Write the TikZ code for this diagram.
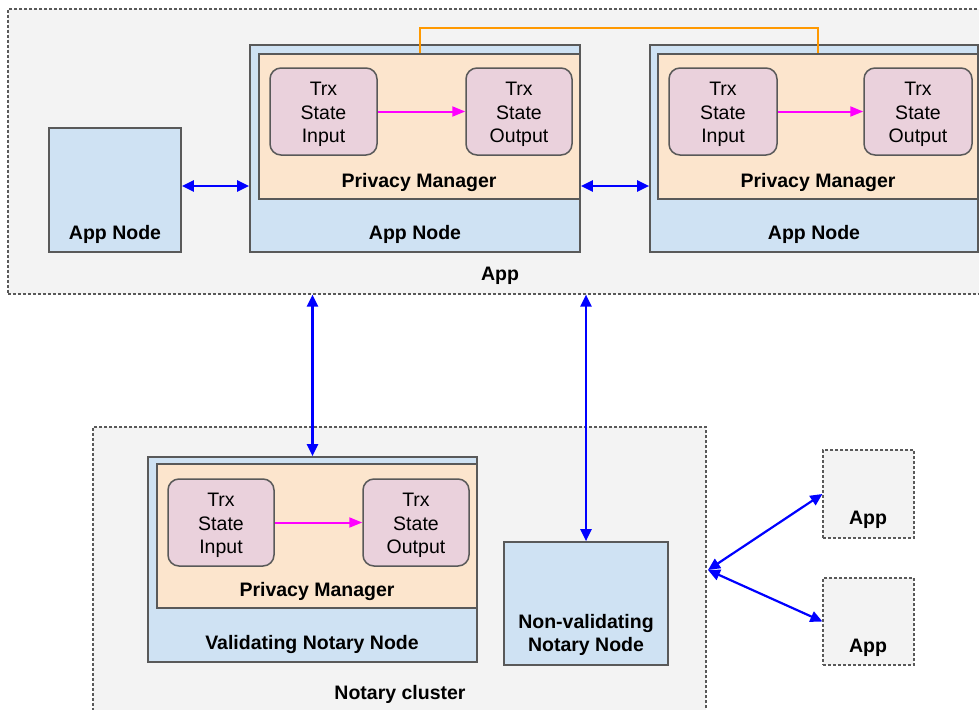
\documentclass[tikz,border=0pt]{standalone}
\usepackage{fontspec}
\setmainfont{Liberation Sans}
\usetikzlibrary{arrows.meta,fit}
\definecolor{bgbox}{HTML}{F3F3F3}
\definecolor{nodeblue}{HTML}{CFE2F3}
\definecolor{pmorange}{HTML}{FCE5CD}
\definecolor{trxpink}{HTML}{EAD1DC}
\definecolor{edgegray}{HTML}{595959}
\definecolor{orangeline}{HTML}{FF9900}
\definecolor{arrowblue}{HTML}{0000FF}
\definecolor{arrowpink}{HTML}{FF00FF}
\begin{document}
\begin{tikzpicture}[x=1pt,y=-1pt,
  font=\fontsize{19.5}{23.5}\selectfont,
  group/.style={draw=edgegray, fill=bgbox, line width=1.2pt, dash pattern=on 3pt off 2pt, inner sep=0pt},
  nodebox/.style={draw=edgegray, fill=nodeblue, line width=1.7pt, inner sep=0pt},
  pmbox/.style={draw=edgegray, fill=pmorange, line width=1.7pt, inner sep=0pt},
  trxbox/.style={draw=edgegray, fill=trxpink, line width=1.5pt, inner sep=0pt, rounded corners=11pt, align=center},
  trxtext/.style={align=center, inner sep=0pt, yshift=-3pt},
  lbl/.style={font=\fontsize{19.5}{23.5}\selectfont\bfseries, inner sep=0pt, align=center, yshift=-3pt},
  biarrow/.style={draw=arrowblue, line width=2.2pt, {Triangle[length=12pt,width=11pt]}-{Triangle[length=12pt,width=11pt]}},
  flow/.style={draw=arrowpink, line width=2pt, -{Triangle[length=13pt,width=10pt]}},
  link/.style={draw=orangeline, line width=2pt}
]
\useasboundingbox (0,0) rectangle (979,709);

% groups
\node[group, fit={(8,9) (995,294)}] (appgroup) {};
\node[lbl] (applbl) at (500,273) {App};
\node[group, fit={(93,427) (706,730)}] (notary) {};
\node[lbl] (notarylbl) at (400,691) {Notary cluster};

% left app node
\node[nodebox, fit={(49,128) (181,252)}] (an1) {};
\node[lbl] (an1lbl) at (115,231) {App Node};

% middle app node
\node[nodebox, fit={(250,45) (580,252)}] (an2) {};
\node[pmbox, fit={(259,54) (580,199)}] (pm2) {};
\node[lbl] (pm2lbl) at (419,179) {Privacy Manager};
\node[lbl] (an2lbl) at (415,231) {App Node};
\node[trxbox, fit={(270,68) (377,155)}] (in2) {};
\node[trxtext] (in2t) at (in2.center) {Trx\\State\\Input};
\node[trxbox, fit={(466,68) (572,155)}] (out2) {};
\node[trxtext] (out2t) at (out2.center) {Trx\\State\\Output};

% right app node
\node[nodebox, fit={(650,45) (978,252)}] (an3) {};
\node[pmbox, fit={(658,54) (978,199)}] (pm3) {};
\node[lbl] (pm3lbl) at (818,179) {Privacy Manager};
\node[lbl] (an3lbl) at (814,231) {App Node};
\node[trxbox, fit={(669,68) (777,155)}] (in3) {};
\node[trxtext] (in3t) at (in3.center) {Trx\\State\\Input};
\node[trxbox, fit={(864,68) (972,155)}] (out3) {};
\node[trxtext] (out3t) at (out3.center) {Trx\\State\\Output};

% validating notary node
\node[nodebox, fit={(148,457) (477,662)}] (vnn) {};
\node[pmbox, fit={(157,464) (477,608)}] (pmv) {};
\node[lbl] (pmvlbl) at (317,588) {Privacy Manager};
\node[lbl] (vnnlbl) at (312,641) {Validating Notary Node};
\node[trxbox, fit={(168,479) (274,566)}] (inv) {};
\node[trxtext] (invt) at (inv.center) {Trx\\State\\Input};
\node[trxbox, fit={(363,479) (469,566)}] (outv) {};
\node[trxtext] (outvt) at (outv.center) {Trx\\State\\Output};

% non-validating notary node
\node[nodebox, fit={(504,542) (668,665)}] (nvn) {};
\node[lbl] (nvnlbl) at (586,632) {Non-validating\\Notary Node};

% external apps
\node[group, fit={(823,450) (914,538)}] (appA) {};
\node[lbl] (appAlbl) at (868,517) {App};
\node[group, fit={(823,578) (914,665)}] (appB) {};
\node[lbl] (appBlbl) at (868,645) {App};

% connectors
\draw[flow] (in2.east) -- (out2.west);
\draw[flow] (in3.east) -- (out3.west);
\draw[flow] (inv.east) -- (outv.west);
\draw[link] (pm2.north) -- ++(0,-25) -| (pm3.north);
\draw[biarrow] ([yshift=4pt]an1.east) -- ([yshift=4pt]an1.east -| an2.west);
\draw[biarrow] ([yshift=4pt]an1.east -| an2.east) -- ([yshift=4pt]an1.east -| an3.west);
\draw[biarrow] (appgroup.south -| vnn.north) -- (vnn.north);
\draw[biarrow] (appgroup.south -| nvn.north) -- (nvn.north);
\coordinate (hub) at (708,570);
\draw[biarrow] (hub) -- (appA.west);
\draw[biarrow] (hub) -- (appB.west);
\end{tikzpicture}
\end{document}
